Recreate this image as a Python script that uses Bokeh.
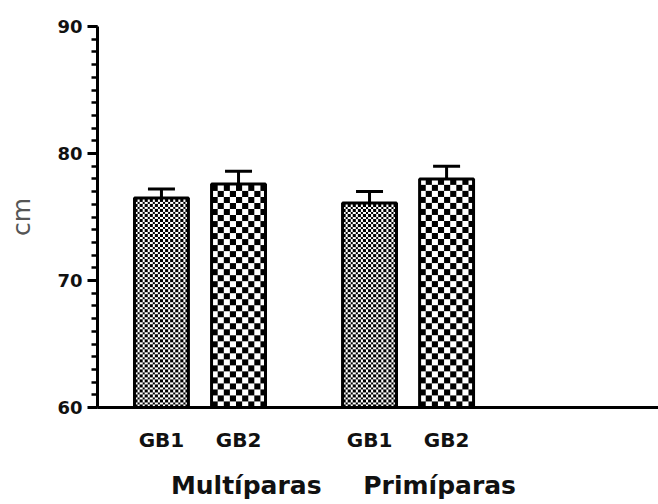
import numpy as np
from bokeh.plotting import figure
from bokeh.models import (ColumnDataSource, Range1d, LinearAxis, FixedTicker,
                          SingleIntervalTicker, Whisker, TeeHead)
from bokeh.embed import file_html
from bokeh.resources import INLINE

# Waist circumference (cm), mean and SEM per group
groups = ["Multíparas", "Primíparas"]
series = ["GB1", "GB2"]
gb1_mean = [76.5, 76.1]
gb1_sem = [0.7, 0.9]
gb2_mean = [77.6, 78.0]
gb2_sem = [1.0, 1.0]
y_ticks = [60, 70, 80, 90]

# x layout: group centres and bar offsets inside a group
group_centre = [1.5, 4.2]
bar_offset = [-0.5, 0.5]
group_label_shift = [0.6, 0.41]
bar_width = 0.7
x_start, x_end = 0.17, 7.45

# plot geometry
W, H = 658, 504
LEFT, TOP, BOTTOM = 97, 26, 97
frame_w = W - LEFT
frame_h = H - TOP - BOTTOM
px_x = frame_w / (x_end - x_start)
px_y = frame_h / (y_ticks[-1] - y_ticks[0])

x_gb1 = [c + bar_offset[0] for c in group_centre]
x_gb2 = [c + bar_offset[1] for c in group_centre]

BLACK = np.uint32(0xFF000000)
WHITE = np.uint32(0xFFFFFFFF)


def checker(top, cell):
    """Checkerboard texture sized to one bar, one array cell per screen pixel."""
    rows = max(1, int(round((top - y_ticks[0]) * px_y)))
    cols = max(1, int(round(bar_width * px_x)))
    r = (np.arange(rows) // cell).astype(int)
    c = (np.arange(cols) // cell).astype(int)
    on = ((r[:, None] + c[None, :]) % 2) == 0
    return np.where(on, BLACK, WHITE).astype(np.uint32)


def bar_source(xs, means, sems, cell):
    return ColumnDataSource(dict(
        x=xs, top=means,
        left=[x - bar_width / 2 for x in xs],
        height=[m - y_ticks[0] for m in means],
        texture=[checker(m, cell) for m in means],
        upper=[m + s for m, s in zip(means, sems)],
        lower=means))


src1 = bar_source(x_gb1, gb1_mean, gb1_sem, 2.5)
src2 = bar_source(x_gb2, gb2_mean, gb2_sem, 6)

p = figure(width=W, height=H, output_backend="svg", toolbar_location=None,
           x_range=Range1d(x_start, x_end), y_range=Range1d(y_ticks[0], y_ticks[-1]),
           min_border_left=LEFT, min_border_right=0, min_border_top=TOP,
           min_border_bottom=BOTTOM, x_axis_location=None, y_axis_location=None)
p.outline_line_color = None
p.xgrid.visible = False
p.ygrid.visible = False
p.background_fill_color = "white"
p.border_fill_color = "white"

for src in (src1, src2):
    p.image_rgba(image="texture", x="left", y=y_ticks[0], dw=bar_width, dh="height",
                 source=src)
    p.vbar(x="x", top="top", bottom=y_ticks[0], width=bar_width, source=src,
           fill_color=None, line_color="black", line_width=3)
    p.add_layout(Whisker(base="x", upper="upper", lower="lower", source=src,
                         line_color="black", line_width=3, level="overlay",
                         upper_head=TeeHead(size=27, line_width=3, line_color="black"),
                         lower_head=None))

# y axis
yaxis = LinearAxis(ticker=SingleIntervalTicker(interval=10, num_minor_ticks=10),
                   axis_label="cm")
yaxis.axis_line_width = 3
yaxis.major_tick_line_width = 3
yaxis.minor_tick_line_width = 2.5
yaxis.major_tick_out = 10
yaxis.major_tick_in = 0
yaxis.minor_tick_out = 6
yaxis.minor_tick_in = 0
yaxis.major_label_standoff = 5
yaxis.major_label_text_font = "DejaVu Sans"
yaxis.major_label_text_font_style = "bold"
yaxis.major_label_text_font_size = "18px"
yaxis.major_label_text_color = "#111111"
yaxis.axis_label_text_font = "DejaVu Sans"
yaxis.axis_label_text_font_style = "normal"
yaxis.axis_label_text_font_size = "25px"
yaxis.axis_label_text_color = "#555555"
yaxis.axis_label_standoff = 18
p.add_layout(yaxis, "left")

# x axis with series labels under each bar
bar_ticks = x_gb1 + x_gb2
bar_labels = [series[0]] * len(x_gb1) + [series[1]] * len(x_gb2)
xaxis = LinearAxis(ticker=FixedTicker(ticks=bar_ticks))
xaxis.major_label_overrides = {t: lab for t, lab in zip(bar_ticks, bar_labels)}
xaxis.axis_line_width = 3
xaxis.major_tick_line_color = None
xaxis.minor_tick_line_color = None
xaxis.major_tick_out = 0
xaxis.major_tick_in = 0
xaxis.major_label_standoff = 20
xaxis.major_label_text_font = "DejaVu Sans"
xaxis.major_label_text_font_style = "bold"
xaxis.major_label_text_font_size = "20px"
xaxis.major_label_text_color = "#111111"
p.add_layout(xaxis, "below")

# second row: group names
group_ticks = [c + s for c, s in zip(group_centre, group_label_shift)]
gaxis = LinearAxis(ticker=FixedTicker(ticks=group_ticks))
gaxis.major_label_overrides = {t: g for t, g in zip(group_ticks, groups)}
gaxis.axis_line_color = None
gaxis.major_tick_line_color = None
gaxis.minor_tick_line_color = None
gaxis.major_tick_out = 0
gaxis.major_tick_in = 0
gaxis.major_label_standoff = 16
gaxis.major_label_text_font = "DejaVu Sans"
gaxis.major_label_text_font_style = "bold"
gaxis.major_label_text_font_size = "25px"
gaxis.major_label_text_color = "#111111"
p.add_layout(gaxis, "below")

open("out.html", "w").write(file_html(p, INLINE))
